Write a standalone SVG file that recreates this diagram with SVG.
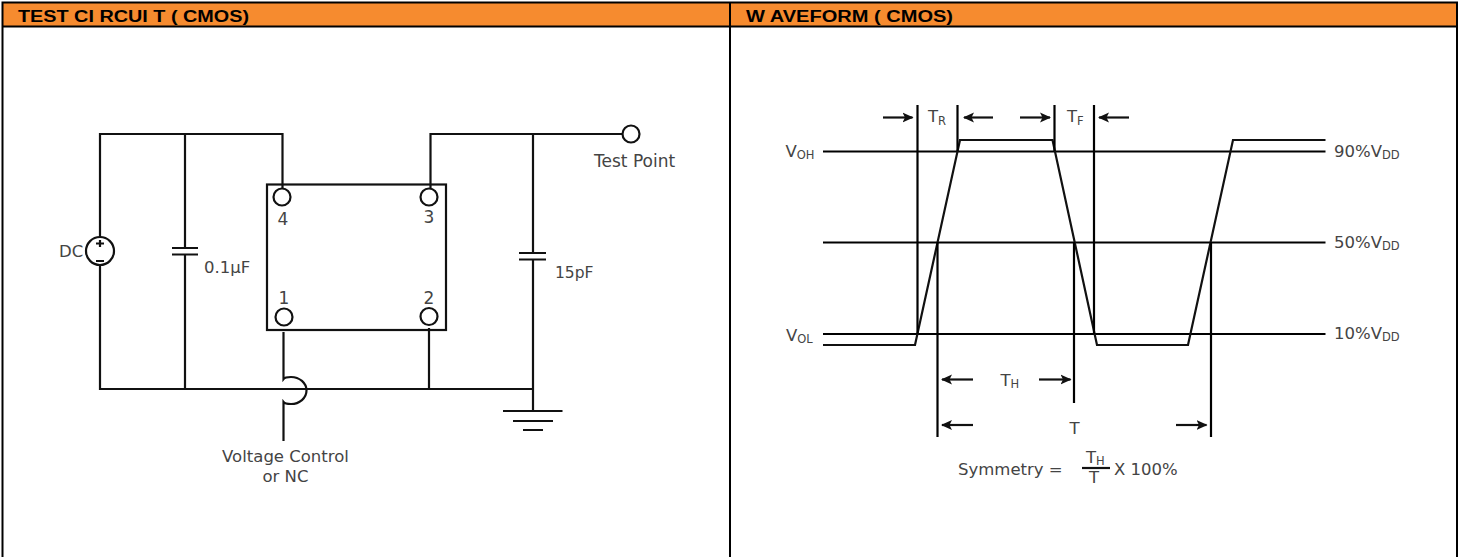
<svg xmlns="http://www.w3.org/2000/svg" width="1458" height="557" viewBox="0 0 1458 557">
<style>
.w{fill:none;stroke:#111;stroke-width:2.200}
.b{fill:none;stroke:#000;stroke-width:2.200}
.t{font-family:"DejaVu Sans",Verdana,sans-serif;font-size:16.500px;fill:#444}
.s{font-family:"DejaVu Sans",Verdana,sans-serif;font-size:11.500px;fill:#444}
.h{font-family:"Liberation Sans",Arial,sans-serif;font-size:16px;font-weight:bold;fill:#000}
.m{text-anchor:middle}
</style>
<defs>
<marker id="a" markerUnits="userSpaceOnUse" markerWidth="12" markerHeight="12" refX="10" refY="6" orient="auto"><path d="M0 1L11 6L0 11L2.500 6Z" fill="#111"/></marker>
</defs>
<rect width="1458" height="557" fill="#fff"/>
<g id="frame">
<rect x="3" y="3" width="1453" height="23" fill="#f68b2f"/>
<path fill="none" stroke="#000" stroke-width="2" d="M1457 557V2.500H2.500V557M2.500 26.500H1457M730 3V557"/>
<text class="h" x="18" y="21.500" textLength="231" lengthAdjust="spacingAndGlyphs">TEST CI RCUI T ( CMOS)</text>
<text class="h" x="746" y="21.500" textLength="207" lengthAdjust="spacingAndGlyphs">W AVEFORM ( CMOS)</text>
</g>
<g id="connectors">
<path class="w" d="M100 237V134H282.500V188M185 134V248M185 255V389M100 265V389H533M533 134V253M533 259.500V411"/>
<path class="w" d="M430.500 188V134H624M283.500 332V379Q285 377 291 377A15.500 13.500 0 0 1 291 404Q285 404 283.500 402V441M429 328V389"/>
</g>
<g id="dc"><circle class="w" cx="100" cy="251" r="14"/><text class="t" x="59" y="256.500">DC</text><path class="w" d="M96 243.500H104M100 240V247M96 261H104"/></g>
<g id="c1"><path class="w" d="M172 248H198M172 254.500H198"/><text class="t" x="204" y="272.500">0.1µF</text></g>
<g id="c2"><path class="w" d="M519 253H546M519 259.500H546"/><text class="t" style="font-size:15.500px" x="555" y="278">15pF</text></g>
<g id="ground"><path class="w" d="M503 411H562.500M513 421H553M523 430H543"/></g>
<g id="chip">
<rect class="w" x="267" y="184.500" width="179" height="145.500"/>
<circle cx="282" cy="197" r="8.500" fill="#fff" stroke="#111" stroke-width="2.200"/><text class="t m" style="font-size:17px" x="283" y="225">4</text>
<circle cx="429" cy="197" r="8.500" fill="#fff" stroke="#111" stroke-width="2.200"/><text class="t m" style="font-size:17px" x="429" y="222.500">3</text>
<circle class="w" cx="284" cy="317" r="8.500"/><text class="t m" style="font-size:17px" x="284" y="304">1</text>
<circle class="w" cx="429" cy="316.500" r="8.500"/><text class="t m" style="font-size:17px" x="429" y="304">2</text>
</g>
<g id="test-point"><circle cx="631" cy="134" r="8.500" fill="#fff" stroke="#111" stroke-width="2.200"/><text class="t" style="font-size:17px" x="594" y="167">Test Point</text></g>
<g id="vc-label"><text class="t m" x="285.500" y="462">Voltage Control</text><text class="t m" x="285.500" y="482">or NC</text></g>
<g id="wave">
<path class="b" d="M823 151.500H1325.500M823 242.500H1325.500M823 334H1325.500"/>
<path class="w" d="M823 345H915L960 140H1052.500L1097 345H1188L1233 140H1325.500"/>
<path class="b" d="M917.500 105V334M957.500 105V151M1054.500 105V151M1094 105V334M937.500 242V437M1074 242V403M1211 242V437"/>
<path class="w" marker-end="url(#a)" d="M883 117.500H912.500"/>
<path class="w" marker-end="url(#a)" d="M993 117.500H964"/>
<path class="w" marker-end="url(#a)" d="M1020 117.500H1050"/>
<path class="w" marker-end="url(#a)" d="M1129 117.500H1099"/>
<path class="w" marker-end="url(#a)" d="M973 379.500H942"/>
<path class="w" marker-end="url(#a)" d="M1039 379.500H1070.500"/>
<path class="w" marker-end="url(#a)" d="M973 425H942"/>
<path class="w" marker-end="url(#a)" d="M1176 425H1206.500"/>
<path class="w" d="M1082 468H1110"/>
</g>
<g id="labels">
<text class="t" x="928" y="122">T<tspan class="s" dy="2.500">R</tspan></text>
<text class="t" x="1067" y="122">T<tspan class="s" dy="2.500">F</tspan></text>
<text class="t" x="785.500" y="156.500">V<tspan class="s" dy="2">OH</tspan></text>
<text class="t" x="786" y="340.500">V<tspan class="s" dy="2">OL</tspan></text>
<text class="t" x="1000.500" y="386">T<tspan class="s" dy="2">H</tspan></text>
<text class="t" x="1069.500" y="434">T</text>
<text class="t" x="958" y="475">Symmetry =</text>
<text class="t" x="1086" y="462.500">T<tspan class="s" dy="2">H</tspan></text>
<text class="t" x="1089" y="482.500">T</text>
<text class="t" x="1114" y="475">X 100%</text>
<text class="t" x="1334" y="157">90%V<tspan class="s" dy="2">DD</tspan></text>
<text class="t" x="1334" y="248">50%V<tspan class="s" dy="2">DD</tspan></text>
<text class="t" x="1334" y="339">10%V<tspan class="s" dy="2">DD</tspan></text>
</g>
</svg>
